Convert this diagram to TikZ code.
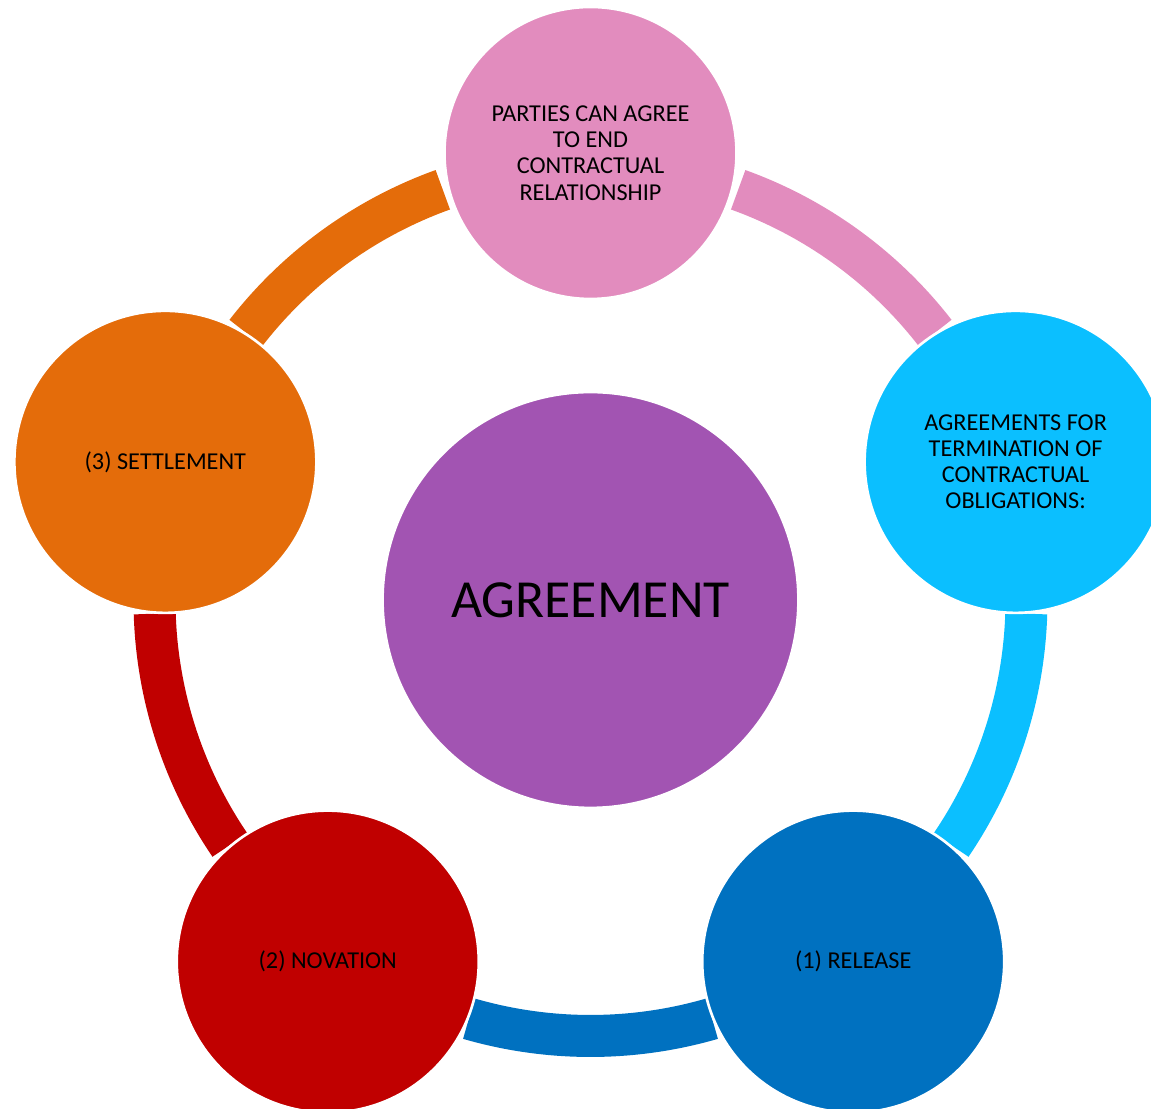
\documentclass[tikz,border=0pt]{standalone}
\usepackage{fontspec}
\setmainfont{Carlito}
\definecolor{agreepurple}{HTML}{A254B2}
\definecolor{partypink}{HTML}{E28CBE}
\definecolor{termcyan}{HTML}{0BBFFF}
\definecolor{releaseblue}{HTML}{0071C0}
\definecolor{novred}{HTML}{C00000}
\definecolor{settleorange}{HTML}{E46C0A}

\begin{document}
\begin{tikzpicture}[
    hub/.style={circle, fill=agreepurple, draw=white, line width=1pt,
                minimum size=8.3cm, inner sep=0pt, text=black,
                font=\fontsize{30.5}{36}\selectfont},
    stage/.style={circle, draw=white, line width=1.5pt, minimum size=6.04cm,
                  inner sep=0pt, align=center, text=black,
                  font=\fontsize{13.8}{14.9}\selectfont},
    ring/.style={line width=0.84cm}]
	\useasboundingbox (-11.81,-10.18) rectangle (11.21,12.0);

	\node[hub] (c0) at (0, 0) {AGREEMENT};

	% ring pieces between the stages
	\draw[ring, partypink]    ([shift={(37.8:8.72)}]c0.center)   arc[start angle=37.8,   end angle=70.2,   radius=8.72];
	\draw[ring, termcyan]     ([shift={(-34.2:8.72)}]c0.center)  arc[start angle=-34.2,  end angle=-1.8,   radius=8.72];
	\draw[ring, releaseblue]  ([shift={(-106.2:8.72)}]c0.center) arc[start angle=-106.2, end angle=-73.8,  radius=8.72];
	\draw[ring, novred]       ([shift={(-178.2:8.72)}]c0.center) arc[start angle=-178.2, end angle=-145.8, radius=8.72];
	\draw[ring, settleorange] ([shift={(109.8:8.72)}]c0.center)  arc[start angle=109.8,  end angle=142.2,  radius=8.72];

	\node[stage, fill=partypink, minimum size=5.84cm] (c1) at (90:8.94)
		{PARTIES CAN AGREE\\TO END\\CONTRACTUAL\\RELATIONSHIP};
	\node[stage, fill=termcyan] (c2) at (18:8.94)
		{AGREEMENTS FOR\\TERMINATION OF\\CONTRACTUAL\\OBLIGATIONS:};
	\node[stage, fill=releaseblue] (c3) at (-54:8.94) {(1) RELEASE};
	\node[stage, fill=novred] (c4) at (-126:8.94) {(2) NOVATION};
	\node[stage, fill=settleorange] (c5) at (162:8.94) {(3) SETTLEMENT};

\end{tikzpicture}
\end{document}
